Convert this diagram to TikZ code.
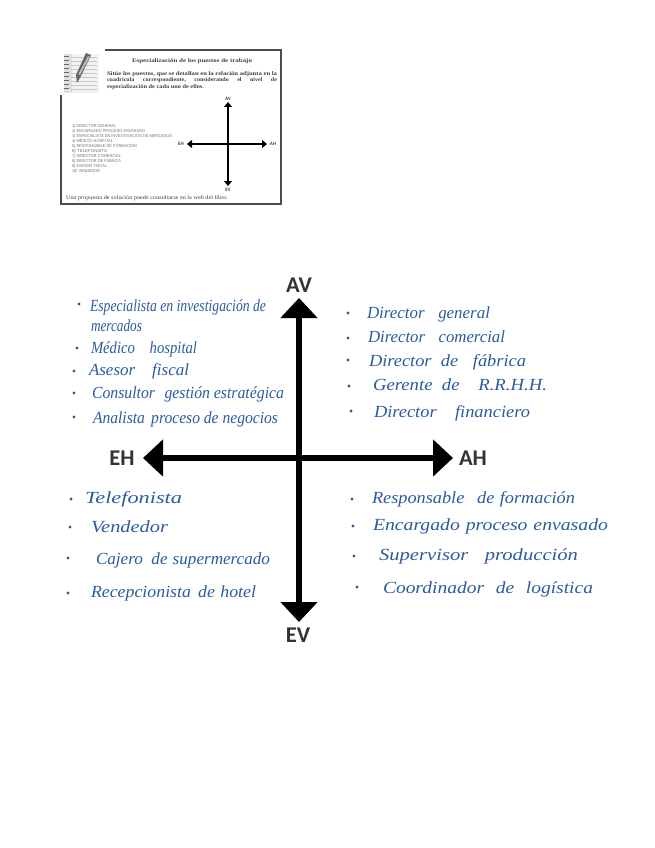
\documentclass[tikz,border=0pt]{standalone}
\usepackage{fontspec}
\usepackage{graphicx}
\usetikzlibrary{arrows.meta}
\setmainfont{Liberation Serif}
\newfontfamily\axisfont{Carlito}
\newfontfamily\listfont{Liberation Sans}
\definecolor{inkblue}{HTML}{2B5C9F}
\definecolor{thumbink}{gray}{0.25}
\definecolor{axisgray}{gray}{0.2}
\tikzset{
  every node/.style={inner sep=0pt,outer sep=0pt},
  handtext/.style={anchor=base west,text=inkblue,font=\itshape\fontsize{17}{17}\selectfont},
  handdot/.style={circle,fill=inkblue,minimum size=3.4pt},
  bigaxis/.style={line width=6pt,draw=black,{Triangle[width=36pt,length=20pt]}-{Triangle[width=36pt,length=20pt]}},
  smallaxis/.style={line width=2pt,draw=black,{Triangle[width=8pt,length=5pt]}-{Triangle[width=8pt,length=5pt]}},
  biglabel/.style={text=axisgray,font=\axisfont\bfseries\fontsize{22.5}{22}\selectfont},
  smalllabel/.style={text=thumbink,font=\axisfont\bfseries\fontsize{5}{5}\selectfont},
  thumbserif/.style={anchor=base west,text=thumbink,font=\bfseries\fontsize{5.6}{6}\selectfont},
  thumblist/.style={anchor=base west,text=black!55,font=\listfont\fontsize{4.2}{5}\selectfont},
  framebar/.style={draw=black!70,line width=1.3pt},
}
% name, bullet x, bullet y, text left, baseline, text right, text
\newcommand{\hwitem}[7]{%
  \node[handdot] (d#1) at (#2,#3) {};
  \node[handtext] (t#1) at (#4,#5) {\pgfmathsetmacro{\hww}{#6-#4}\resizebox{\hww pt}{\height}{#7}};
}
% name, left, baseline, right, style, text
\newcommand{\fitline}[6]{%
  \node[#5] (#1) at (#2,#3) {\pgfmathsetmacro{\hww}{#4-#2}\resizebox{\hww pt}{\height}{#6}};
}
\begin{document}
\begin{tikzpicture}[x=1pt,y=-1pt]
\useasboundingbox (0,0) rectangle (655,848);
\fill[white] (0,0) rectangle (655,848);

% ---- thumbnail frame
\coordinate (fa) at (105,50);
\coordinate (fb) at (281,50);
\coordinate (fc) at (281,204);
\coordinate (fd) at (61,204);
\coordinate (fe) at (61,95);
\draw[framebar] (fa) -- (fb) -- (fc) -- (fd) -- (fe);

% ---- notepad icon
\fill[black!5] (64,54) rectangle (99,93);
\fill[black!12] (64,54) rectangle (72,93);
\foreach \yy in {56,60,...,88}{
  \draw[black!60,line width=0.9pt] (64,\yy) -- (69,\yy);
  \draw[black!22,line width=0.5pt] (71,\yy+1) -- (97,\yy+1);
}
\fill[black!60] (86,53) -- (91,55) -- (81,76) -- (77,83) -- (76,75) -- cycle;
\fill[black!25] (88,56) -- (89.5,57) -- (80,75) -- (78.5,74) -- cycle;

% ---- thumbnail text
\fitline{th}{132}{63}{252}{thumbserif}{Especialización de los puestos de trabajo}
\fitline{p1}{107}{75.5}{277}{thumbserif}{Sitúe los puestos, que se detallan en la relación adjunta en la}
\fitline{p2}{107}{82}{277}{thumbserif}{cuadrícula\hspace{1.4em}correspondiente,\hspace{1.4em}considerando\hspace{1.4em}el\hspace{1.4em}nivel\hspace{1.4em}de}
\fitline{p3}{107}{88.5}{204}{thumbserif}{especialización de cada uno de ellos.}

\fitline{l1}{72}{127.5}{116}{thumblist}{1) DIRECTOR GENERAL}
\fitline{l2}{72}{132.5}{145}{thumblist}{2) ENCARGADO PROCESO ENVASADO}
\fitline{l3}{72}{137.5}{172}{thumblist}{3) ESPECIALISTA EN INVESTIGACIÓN DE MERCADOS}
\fitline{l4}{72}{142.5}{113}{thumblist}{4) MÉDICO HOSPITAL}
\fitline{l5}{72}{147.5}{137}{thumblist}{5) RESPONSABLE DE FORMACIÓN}
\fitline{l6}{72}{152.5}{107}{thumblist}{6) TELEFONISTA}
\fitline{l7}{72}{157.5}{121}{thumblist}{7) DIRECTOR COMERCIAL}
\fitline{l8}{72}{162.5}{121}{thumblist}{8) DIRECTOR DE FÁBRICA}
\fitline{l9}{72}{167.5}{107}{thumblist}{9) ASESOR FISCAL}
\fitline{l10}{72}{172.5}{100}{thumblist}{10) VENDEDOR}
\fitline{foot}{66}{199.5}{228}{anchor=base west,text=thumbink,font=\fontsize{5.6}{6}\selectfont}{Una propuesta de solución puede consultarse en la web del libro.}

% ---- small cross
\coordinate (sn) at (228,102);
\coordinate (ss) at (228,186);
\coordinate (sw) at (187,144);
\coordinate (se) at (267,144);
\draw[smallaxis] (sn) -- (ss);
\draw[smallaxis] (sw) -- (se);
\node[smalllabel] (sav) at (228,98.5) {AV};
\node[smalllabel] (sev) at (228,190) {EV};
\node[smalllabel] (seh) at (181,144) {EH};
\node[smalllabel] (sah) at (273,144) {AH};

% ---- big cross
\coordinate (bn) at (299,298);
\coordinate (bs) at (299,622);
\coordinate (bw) at (143,458);
\coordinate (be) at (453,458);
\draw[bigaxis] (bn) -- (bs);
\draw[bigaxis] (bw) -- (be);
\node[biglabel] (av) at (299,285) {AV};
\node[biglabel] (ev) at (298,635) {EV};
\node[biglabel] (eh) at (122,458) {EH};
\node[biglabel] (ah) at (473,458) {AH};

% ---- handwritten lists
\hwitem{a}{79}{304}{90}{311}{266}{Especialista en investigación de}
\node[handtext] (ta2) at (91,331) {\resizebox{51pt}{\height}{mercados}};
\hwitem{b}{77}{348}{91}{353}{197}{Médico\hspace{1em}hospital}
\hwitem{c}{74}{371}{89}{375}{189}{Asesor\hspace{1em}fiscal}
\hwitem{e}{74}{393}{92}{398}{284}{Consultor\hspace{.6em}gestión estratégica}
\hwitem{f}{74}{417}{93}{423}{278}{Analista\hspace{.4em}proceso de negocios}

\hwitem{g}{348}{313}{367}{318}{490}{Director\hspace{.8em}general}
\hwitem{h}{348}{338}{368}{342}{505}{Director\hspace{.8em}comercial}
\hwitem{i}{348}{360}{369}{366}{526}{Director\hspace{.5em}de\hspace{.8em}fábrica}
\hwitem{j}{349}{386}{373}{390}{547}{Gerente\hspace{.5em}de\hspace{1em}R.R.H.H.}
\hwitem{k}{351}{411}{374}{417}{530}{Director\hspace{1em}financiero}

\hwitem{m}{71}{499}{85}{503}{182}{Telefonista}
\hwitem{n}{70}{527}{91}{532}{168}{Vendedor}
\hwitem{o}{68}{558}{96}{564}{270}{Cajero\hspace{.5em}de\hspace{.3em}supermercado}
\hwitem{q}{68}{593}{91}{597}{256}{Recepcionista\hspace{.4em}de\hspace{.3em}hotel}

\hwitem{r}{352}{499}{372}{503}{575}{Responsable\hspace{.7em}de\hspace{.3em}formación}
\hwitem{s}{353}{526}{373}{530}{608}{Encargado\hspace{.3em}proceso\hspace{.3em}envasado}
\hwitem{u}{354}{556}{379}{560}{578}{Supervisor\hspace{.8em}producción}
\hwitem{v}{357}{587}{383}{593}{593}{Coordinador\hspace{.6em}de\hspace{.6em}logística}
\end{tikzpicture}
\end{document}
